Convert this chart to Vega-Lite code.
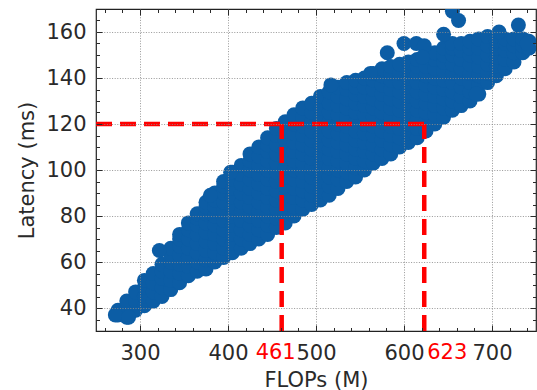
{
  "$schema": "https://vega.github.io/schema/vega-lite/v6.json",
  "width": 440,
  "height": 322,
  "autosize": {"type": "none"},
  "padding": {"left": 96, "top": 9, "right": 1, "bottom": 59},
  "background": "white",
  "config": {
    "view": {"stroke": "#222222", "strokeWidth": 1.2},
    "font": "DejaVu Sans",
    "axis": {
      "labelFont": "DejaVu Sans",
      "titleFont": "DejaVu Sans",
      "labelFontSize": 21,
      "titleFontSize": 21,
      "titleFontWeight": "normal",
      "labelColor": "#2a2a2a",
      "titleColor": "#2a2a2a",
      "tickColor": "#2a2a2a",
      "tickWidth": 1,
      "domain": false,
      "gridColor": "#8c8c8c",
      "gridDash": [1, 1.6],
      "gridWidth": 0.9
    }
  },
  "datasets": {
    "pts": [
      {"flops":275,"latency":37},{"flops":275,"latency":39},
      {"flops":285,"latency":36},{"flops":285,"latency":40},{"flops":285,"latency":43},
      {"flops":295,"latency":39},{"flops":295,"latency":43},{"flops":295,"latency":47},
      {"flops":305,"latency":41},{"flops":305,"latency":45},{"flops":305,"latency":49},{"flops":305,"latency":52},
      {"flops":315,"latency":43},{"flops":315,"latency":47},{"flops":315,"latency":51},{"flops":315,"latency":55},
      {"flops":325,"latency":45},{"flops":325,"latency":49},{"flops":325,"latency":53},{"flops":325,"latency":56},{"flops":325,"latency":59},
      {"flops":335,"latency":48},{"flops":335,"latency":52},{"flops":335,"latency":56},{"flops":335,"latency":60},{"flops":335,"latency":63},{"flops":335,"latency":66},
      {"flops":345,"latency":51},{"flops":345,"latency":55},{"flops":345,"latency":59},{"flops":345,"latency":63},{"flops":345,"latency":67},{"flops":345,"latency":70},{"flops":345,"latency":72},
      {"flops":355,"latency":54},{"flops":355,"latency":58},{"flops":355,"latency":62},{"flops":355,"latency":66},{"flops":355,"latency":70},{"flops":355,"latency":74},{"flops":355,"latency":77},
      {"flops":365,"latency":56},{"flops":365,"latency":60},{"flops":365,"latency":64},{"flops":365,"latency":68},{"flops":365,"latency":72},{"flops":365,"latency":76},{"flops":365,"latency":79},{"flops":365,"latency":81},
      {"flops":375,"latency":57},{"flops":375,"latency":61},{"flops":375,"latency":65},{"flops":375,"latency":69},{"flops":375,"latency":73},{"flops":375,"latency":77},{"flops":375,"latency":81},{"flops":375,"latency":84},{"flops":375,"latency":86},
      {"flops":385,"latency":60},{"flops":385,"latency":64},{"flops":385,"latency":68},{"flops":385,"latency":72},{"flops":385,"latency":76},{"flops":385,"latency":80},{"flops":385,"latency":84},{"flops":385,"latency":87},{"flops":385,"latency":90},
      {"flops":395,"latency":62},{"flops":395,"latency":66},{"flops":395,"latency":70},{"flops":395,"latency":74},{"flops":395,"latency":78},{"flops":395,"latency":82},{"flops":395,"latency":86},{"flops":395,"latency":90},{"flops":395,"latency":93},{"flops":395,"latency":95},
      {"flops":405,"latency":64},{"flops":405,"latency":68},{"flops":405,"latency":72},{"flops":405,"latency":76},{"flops":405,"latency":80},{"flops":405,"latency":84},{"flops":405,"latency":88},{"flops":405,"latency":92},{"flops":405,"latency":96},{"flops":405,"latency":99},
      {"flops":415,"latency":66},{"flops":415,"latency":70},{"flops":415,"latency":74},{"flops":415,"latency":78},{"flops":415,"latency":82},{"flops":415,"latency":86},{"flops":415,"latency":90},{"flops":415,"latency":94},{"flops":415,"latency":98},{"flops":415,"latency":102},
      {"flops":425,"latency":68},{"flops":425,"latency":72},{"flops":425,"latency":76},{"flops":425,"latency":80},{"flops":425,"latency":84},{"flops":425,"latency":88},{"flops":425,"latency":92},{"flops":425,"latency":96},{"flops":425,"latency":100},{"flops":425,"latency":104},{"flops":425,"latency":107},
      {"flops":435,"latency":70},{"flops":435,"latency":74},{"flops":435,"latency":78},{"flops":435,"latency":82},{"flops":435,"latency":86},{"flops":435,"latency":90},{"flops":435,"latency":94},{"flops":435,"latency":98},{"flops":435,"latency":102},{"flops":435,"latency":106},{"flops":435,"latency":110},
      {"flops":445,"latency":72},{"flops":445,"latency":76},{"flops":445,"latency":80},{"flops":445,"latency":84},{"flops":445,"latency":88},{"flops":445,"latency":92},{"flops":445,"latency":96},{"flops":445,"latency":100},{"flops":445,"latency":104},{"flops":445,"latency":108},{"flops":445,"latency":111},{"flops":445,"latency":114},
      {"flops":455,"latency":75},{"flops":455,"latency":79},{"flops":455,"latency":83},{"flops":455,"latency":87},{"flops":455,"latency":91},{"flops":455,"latency":95},{"flops":455,"latency":99},{"flops":455,"latency":103},{"flops":455,"latency":107},{"flops":455,"latency":111},{"flops":455,"latency":115},{"flops":455,"latency":118},
      {"flops":465,"latency":77},{"flops":465,"latency":81},{"flops":465,"latency":85},{"flops":465,"latency":89},{"flops":465,"latency":93},{"flops":465,"latency":97},{"flops":465,"latency":101},{"flops":465,"latency":105},{"flops":465,"latency":109},{"flops":465,"latency":113},{"flops":465,"latency":117},{"flops":465,"latency":121},
      {"flops":475,"latency":80},{"flops":475,"latency":84},{"flops":475,"latency":88},{"flops":475,"latency":92},{"flops":475,"latency":96},{"flops":475,"latency":100},{"flops":475,"latency":104},{"flops":475,"latency":108},{"flops":475,"latency":112},{"flops":475,"latency":116},{"flops":475,"latency":120},{"flops":475,"latency":124},
      {"flops":485,"latency":83},{"flops":485,"latency":87},{"flops":485,"latency":91},{"flops":485,"latency":95},{"flops":485,"latency":99},{"flops":485,"latency":103},{"flops":485,"latency":107},{"flops":485,"latency":111},{"flops":485,"latency":115},{"flops":485,"latency":119},{"flops":485,"latency":123},{"flops":485,"latency":127},
      {"flops":495,"latency":85},{"flops":495,"latency":89},{"flops":495,"latency":93},{"flops":495,"latency":97},{"flops":495,"latency":101},{"flops":495,"latency":105},{"flops":495,"latency":109},{"flops":495,"latency":113},{"flops":495,"latency":117},{"flops":495,"latency":121},{"flops":495,"latency":125},{"flops":495,"latency":129},
      {"flops":505,"latency":87},{"flops":505,"latency":91},{"flops":505,"latency":95},{"flops":505,"latency":99},{"flops":505,"latency":103},{"flops":505,"latency":107},{"flops":505,"latency":111},{"flops":505,"latency":115},{"flops":505,"latency":119},{"flops":505,"latency":123},{"flops":505,"latency":127},{"flops":505,"latency":132},
      {"flops":515,"latency":89},{"flops":515,"latency":93},{"flops":515,"latency":97},{"flops":515,"latency":101},{"flops":515,"latency":105},{"flops":515,"latency":109},{"flops":515,"latency":113},{"flops":515,"latency":117},{"flops":515,"latency":121},{"flops":515,"latency":125},{"flops":515,"latency":129},{"flops":515,"latency":134},
      {"flops":525,"latency":92},{"flops":525,"latency":96},{"flops":525,"latency":100},{"flops":525,"latency":104},{"flops":525,"latency":108},{"flops":525,"latency":112},{"flops":525,"latency":116},{"flops":525,"latency":120},{"flops":525,"latency":124},{"flops":525,"latency":128},{"flops":525,"latency":132},{"flops":525,"latency":136},
      {"flops":535,"latency":95},{"flops":535,"latency":99},{"flops":535,"latency":103},{"flops":535,"latency":107},{"flops":535,"latency":111},{"flops":535,"latency":115},{"flops":535,"latency":119},{"flops":535,"latency":123},{"flops":535,"latency":127},{"flops":535,"latency":131},{"flops":535,"latency":135},{"flops":535,"latency":138},
      {"flops":545,"latency":97},{"flops":545,"latency":101},{"flops":545,"latency":105},{"flops":545,"latency":109},{"flops":545,"latency":113},{"flops":545,"latency":117},{"flops":545,"latency":121},{"flops":545,"latency":125},{"flops":545,"latency":129},{"flops":545,"latency":133},{"flops":545,"latency":136},{"flops":545,"latency":139},
      {"flops":555,"latency":100},{"flops":555,"latency":104},{"flops":555,"latency":108},{"flops":555,"latency":112},{"flops":555,"latency":116},{"flops":555,"latency":120},{"flops":555,"latency":124},{"flops":555,"latency":128},{"flops":555,"latency":132},{"flops":555,"latency":136},{"flops":555,"latency":140},
      {"flops":565,"latency":103},{"flops":565,"latency":107},{"flops":565,"latency":111},{"flops":565,"latency":115},{"flops":565,"latency":119},{"flops":565,"latency":123},{"flops":565,"latency":127},{"flops":565,"latency":131},{"flops":565,"latency":135},{"flops":565,"latency":139},{"flops":565,"latency":142},
      {"flops":575,"latency":105},{"flops":575,"latency":109},{"flops":575,"latency":113},{"flops":575,"latency":117},{"flops":575,"latency":121},{"flops":575,"latency":125},{"flops":575,"latency":129},{"flops":575,"latency":133},{"flops":575,"latency":137},{"flops":575,"latency":141},{"flops":575,"latency":144},
      {"flops":585,"latency":107},{"flops":585,"latency":111},{"flops":585,"latency":115},{"flops":585,"latency":119},{"flops":585,"latency":123},{"flops":585,"latency":127},{"flops":585,"latency":131},{"flops":585,"latency":135},{"flops":585,"latency":139},{"flops":585,"latency":142},{"flops":585,"latency":145},
      {"flops":595,"latency":110},{"flops":595,"latency":114},{"flops":595,"latency":118},{"flops":595,"latency":122},{"flops":595,"latency":126},{"flops":595,"latency":130},{"flops":595,"latency":134},{"flops":595,"latency":138},{"flops":595,"latency":142},{"flops":595,"latency":146},
      {"flops":605,"latency":112},{"flops":605,"latency":116},{"flops":605,"latency":120},{"flops":605,"latency":124},{"flops":605,"latency":128},{"flops":605,"latency":132},{"flops":605,"latency":136},{"flops":605,"latency":140},{"flops":605,"latency":144},{"flops":605,"latency":147},
      {"flops":615,"latency":114},{"flops":615,"latency":118},{"flops":615,"latency":122},{"flops":615,"latency":126},{"flops":615,"latency":130},{"flops":615,"latency":134},{"flops":615,"latency":138},{"flops":615,"latency":142},{"flops":615,"latency":145},{"flops":615,"latency":148},
      {"flops":625,"latency":117},{"flops":625,"latency":121},{"flops":625,"latency":125},{"flops":625,"latency":129},{"flops":625,"latency":133},{"flops":625,"latency":137},{"flops":625,"latency":141},{"flops":625,"latency":145},{"flops":625,"latency":149},
      {"flops":635,"latency":120},{"flops":635,"latency":124},{"flops":635,"latency":128},{"flops":635,"latency":132},{"flops":635,"latency":136},{"flops":635,"latency":140},{"flops":635,"latency":144},{"flops":635,"latency":148},{"flops":635,"latency":151},
      {"flops":645,"latency":123},{"flops":645,"latency":127},{"flops":645,"latency":131},{"flops":645,"latency":135},{"flops":645,"latency":139},{"flops":645,"latency":143},{"flops":645,"latency":147},{"flops":645,"latency":150},{"flops":645,"latency":153},
      {"flops":655,"latency":126},{"flops":655,"latency":130},{"flops":655,"latency":134},{"flops":655,"latency":138},{"flops":655,"latency":142},{"flops":655,"latency":146},{"flops":655,"latency":150},{"flops":655,"latency":153},{"flops":655,"latency":155},
      {"flops":665,"latency":128},{"flops":665,"latency":132},{"flops":665,"latency":136},{"flops":665,"latency":140},{"flops":665,"latency":144},{"flops":665,"latency":148},{"flops":665,"latency":152},{"flops":665,"latency":155},
      {"flops":675,"latency":130},{"flops":675,"latency":134},{"flops":675,"latency":138},{"flops":675,"latency":142},{"flops":675,"latency":146},{"flops":675,"latency":150},{"flops":675,"latency":153},{"flops":675,"latency":156},
      {"flops":685,"latency":133},{"flops":685,"latency":137},{"flops":685,"latency":141},{"flops":685,"latency":145},{"flops":685,"latency":149},{"flops":685,"latency":153},{"flops":685,"latency":157},
      {"flops":695,"latency":138},{"flops":695,"latency":142},{"flops":695,"latency":146},{"flops":695,"latency":150},{"flops":695,"latency":154},{"flops":695,"latency":158},
      {"flops":705,"latency":141},{"flops":705,"latency":145},{"flops":705,"latency":149},{"flops":705,"latency":153},{"flops":705,"latency":156},{"flops":705,"latency":158},
      {"flops":715,"latency":144},{"flops":715,"latency":148},{"flops":715,"latency":152},{"flops":715,"latency":155},{"flops":715,"latency":157},
      {"flops":725,"latency":147},{"flops":725,"latency":151},{"flops":725,"latency":154},{"flops":725,"latency":157},
      {"flops":735,"latency":151},{"flops":735,"latency":154},{"flops":735,"latency":157},
      {"flops":742,"latency":153},{"flops":742,"latency":156},
      {"flops":272,"latency":37},{"flops":287,"latency":36},{"flops":322,"latency":65},{"flops":380,"latency":89},{"flops":403,"latency":99},
      {"flops":517,"latency":137},{"flops":562,"latency":142},{"flops":581,"latency":151},{"flops":600,"latency":155},{"flops":614,"latency":155},
      {"flops":623,"latency":154},{"flops":621,"latency":149},{"flops":645,"latency":159},{"flops":655,"latency":169},{"flops":662,"latency":165},
      {"flops":708,"latency":160},{"flops":730,"latency":163},{"flops":740,"latency":155},{"flops":682,"latency":133}
    ],
    "guides": [
      {"flops":250,"flops2":623,"latency":120,"latency2":120},
      {"flops":461,"flops2":461,"latency":30,"latency2":120},
      {"flops":623,"flops2":623,"latency":30,"latency2":120}
    ],
    "marks": [
      {"flops":461,"latency":30,"label":"461"},
      {"flops":623,"latency":30,"label":"623"}
    ]
  },
  "resolve": {"axis": {"x": "independent", "y": "independent"}},
  "layer": [
    {
      "data": {"name": "pts"},
      "mark": {"type": "circle", "size": 225, "opacity": 1, "color": "#0C5DA5", "clip": true},
      "encoding": {
        "x": {"field": "flops", "type": "quantitative",
          "scale": {"domain": [250, 750], "nice": false, "zero": false},
          "axis": {"orient": "bottom", "values": [300, 400, 500, 600, 700], "title": "FLOPs (M)",
            "grid": true, "tickSize": -6, "labelPadding": 17, "titlePadding": 6, "zindex": 1}},
        "y": {"field": "latency", "type": "quantitative",
          "scale": {"domain": [30, 170], "nice": false, "zero": false},
          "axis": {"orient": "left", "values": [40, 60, 80, 100, 120, 140, 160], "title": "Latency (ms)",
            "grid": true, "tickSize": -6, "labelPadding": 16, "titlePadding": 8, "zindex": 1}}
      }
    },
    {
      "data": {"name": "guides"},
      "mark": {"type": "rule", "color": "#FF0000", "strokeWidth": 4.5, "strokeDash": [16, 8]},
      "encoding": {
        "x": {"field": "flops", "type": "quantitative",
          "axis": {"orient": "top", "values": [300, 400, 500, 600, 700], "title": null, "labels": false,
            "grid": false, "tickSize": -6, "zindex": 1}},
        "x2": {"field": "flops2"},
        "y": {"field": "latency", "type": "quantitative",
          "axis": {"orient": "right", "values": [40, 60, 80, 100, 120, 140, 160], "title": null, "labels": false,
            "grid": false, "tickSize": -6, "zindex": 1}},
        "y2": {"field": "latency2"}
      }
    },
    {
      "data": {"name": "marks"},
      "transform": [{"filter": "datum.label == '461'"}],
      "mark": {"type": "text", "color": "#FF0000", "font": "DejaVu Sans", "fontSize": 21, "align": "center", "baseline": "top", "dx": -6, "dy": 11},
      "encoding": {
        "x": {"field": "flops", "type": "quantitative",
          "axis": {"orient": "bottom", "values": [260, 280, 320, 340, 360, 380, 420, 440, 460, 480, 520, 540, 560, 580, 620, 640, 660, 680, 720, 740],
            "title": null, "labels": false, "grid": false, "tickSize": -3.5, "zindex": 1}},
        "y": {"field": "latency", "type": "quantitative",
          "axis": {"orient": "left", "values": [35, 45, 50, 55, 65, 70, 75, 85, 90, 95, 105, 110, 115, 125, 130, 135, 145, 150, 155, 165],
            "title": null, "labels": false, "grid": false, "tickSize": -3.5, "zindex": 1}},
        "text": {"field": "label"}
      }
    },
    {
      "data": {"name": "marks"},
      "transform": [{"filter": "datum.label == '623'"}],
      "mark": {"type": "text", "color": "#FF0000", "font": "DejaVu Sans", "fontSize": 21, "align": "left", "baseline": "top", "dx": 3, "dy": 11},
      "encoding": {
        "x": {"field": "flops", "type": "quantitative",
          "axis": {"orient": "top", "values": [260, 280, 320, 340, 360, 380, 420, 440, 460, 480, 520, 540, 560, 580, 620, 640, 660, 680, 720, 740],
            "title": null, "labels": false, "grid": false, "tickSize": -3.5, "zindex": 1}},
        "y": {"field": "latency", "type": "quantitative",
          "axis": {"orient": "right", "values": [35, 45, 50, 55, 65, 70, 75, 85, 90, 95, 105, 110, 115, 125, 130, 135, 145, 150, 155, 165],
            "title": null, "labels": false, "grid": false, "tickSize": -3.5, "zindex": 1}},
        "text": {"field": "label"}
      }
    }
  ]
}
